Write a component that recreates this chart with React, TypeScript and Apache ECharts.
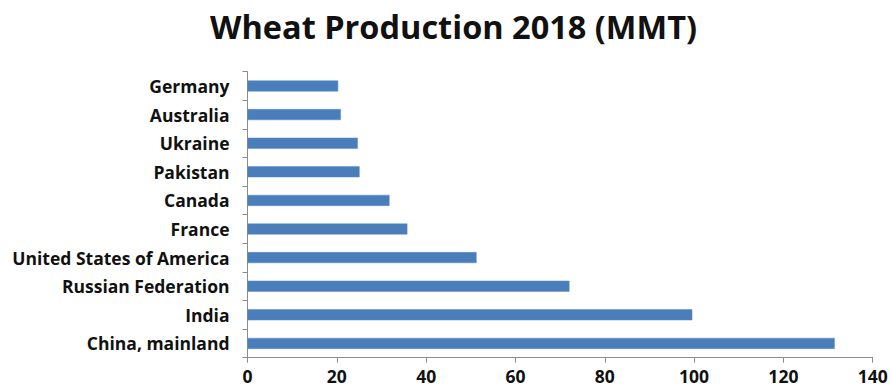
import React, { useEffect, useRef } from "react";
import * as echarts from "echarts";

const categories = [
  "China, mainland",
  "India",
  "Russian Federation",
  "United States of America",
  "France",
  "Canada",
  "Pakistan",
  "Ukraine",
  "Australia",
  "Germany",
];
const production = [131.5, 99.6, 72.1, 51.3, 35.8, 31.8, 25.1, 24.7, 20.9, 20.3];
const titleText = "Wheat Production 2018 (MMT)";

export default function App() {
  const ref = useRef<HTMLDivElement>(null);
  useEffect(() => {
    document.body.style.margin = "0";
    if (!ref.current) return;
    const chart = echarts.init(ref.current, undefined, { renderer: "svg" });
    chart.setOption({
      animation: false,
      backgroundColor: "#ffffff",
      graphic: [
        {
          type: "text",
          x: 453.5,
          y: 26,
          style: {
            text: titleText,
            font: "bold 32.5px 'Open Sans'",
            fill: "#111111",
            textAlign: "center",
            textVerticalAlign: "middle",
          },
        },
      ],
      grid: { left: 247.5, right: 18.3, top: 71.7, bottom: 29.3, containLabel: false },
      xAxis: {
        type: "value",
        min: 0,
        max: 140,
        interval: 20,
        splitLine: { show: false },
        axisLine: { show: true, lineStyle: { color: "#8c8c8c", width: 1 } },
        axisTick: { show: true, length: 5, lineStyle: { color: "#8c8c8c" } },
        axisLabel: {
          margin: 10,
          color: "#111111",
          fontFamily: "Open Sans",
          fontWeight: "bold",
          fontSize: 17.5,
          lineHeight: 17,
        },
      },
      yAxis: {
        type: "category",
        data: categories,
        axisLine: { show: true, lineStyle: { color: "#8c8c8c", width: 1 } },
        axisTick: { show: true, length: 5, lineStyle: { color: "#8c8c8c" } },
        axisLabel: {
          margin: 18,
          color: "#111111",
          fontFamily: "Open Sans",
          fontWeight: "bold",
          fontSize: 17.5,
        },
      },
      series: [
        {
          type: "bar",
          data: production,
          barWidth: 11,
          itemStyle: { color: "#4a7ebb", borderColor: "#5b8ccb", borderWidth: 0.5 },
        },
      ],
    });
    return () => chart.dispose();
  }, []);
  return <div ref={ref} style={{ width: 891, height: 387 }} />;
}
